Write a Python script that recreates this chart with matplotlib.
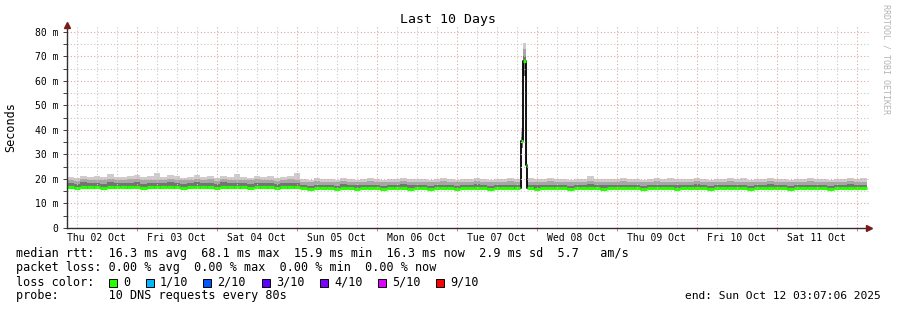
import matplotlib
matplotlib.use("Agg")
import matplotlib.pyplot as plt
import matplotlib.dates as mdates
from matplotlib.patches import Rectangle
import numpy as np
import pandas as pd

nan = np.nan

# 2-hour bins, Thu 02 Oct 03:07 -> Sun 12 Oct 03:07 (bin 68 is covered by the spike bins)
median = [
    16.6, 16.5, 16.8, 16.6, 16.7, 16.5, 16.9, 16.6, 16.7, 16.6,
    16.8, 16.5, 16.6, 16.7, 16.6, 16.9, 16.7, 16.5, 16.6, 16.8,
    16.6, 16.7, 16.5, 16.8, 16.6, 16.7, 16.6, 16.5, 16.8, 16.6,
    16.7, 16.5, 16.6, 16.7, 16.6,
    16.2, 16.1, 16.3, 16.2, 16.2, 16.1, 16.3, 16.2, 16.1, 16.2,
    16.3, 16.2, 16.1, 16.2, 16.2, 16.3, 16.1, 16.2, 16.2, 16.1,
    16.2, 16.3, 16.2, 16.1, 16.2, 16.2, 16.3, 16.2, 16.1, 16.2,
    16.2, 16.3, 16.2, nan, 16.2, 16.1, 16.2, 16.3, 16.2, 16.2,
    16.1, 16.2, 16.2, 16.3, 16.2, 16.1, 16.2, 16.2, 16.3, 16.2,
    16.2, 16.1, 16.2, 16.3, 16.2, 16.2, 16.1, 16.2, 16.2, 16.3,
    16.2, 16.1, 16.2, 16.2, 16.3, 16.2, 16.2, 16.1, 16.2, 16.2,
    16.3, 16.2, 16.2, 16.1, 16.2, 16.2, 16.3, 16.2, 16.2, 16.1,
    16.2, 16.2, 16.3, 16.2, 16.2,
]
smoke_lo = [
    16.1, 16.0, 16.2, 16.1, 16.1, 16.0, 16.3, 16.1, 16.2, 16.0,
    16.2, 16.0, 16.1, 16.1, 16.0, 16.3, 16.1, 16.0, 16.1, 16.2,
    16.0, 16.1, 16.0, 16.2, 16.1, 16.1, 16.0, 16.0, 16.2, 16.1,
    16.1, 16.0, 16.1, 16.1, 16.0,
    15.8, 15.7, 15.9, 15.8, 15.8, 15.7, 15.9, 15.8, 15.7, 15.8,
    15.9, 15.8, 15.7, 15.8, 15.8, 15.9, 15.7, 15.8, 15.8, 15.7,
    15.8, 15.9, 15.8, 15.7, 15.8, 15.8, 15.9, 15.8, 15.7, 15.8,
    15.8, 15.9, 15.8, nan, 15.8, 15.7, 15.8, 15.9, 15.8, 15.8,
    15.7, 15.8, 15.8, 15.9, 15.8, 15.7, 15.8, 15.8, 15.9, 15.8,
    15.8, 15.7, 15.8, 15.9, 15.8, 15.8, 15.7, 15.8, 15.8, 15.9,
    15.8, 15.7, 15.8, 15.8, 15.9, 15.8, 15.8, 15.7, 15.8, 15.8,
    15.9, 15.8, 15.8, 15.7, 15.8, 15.8, 15.9, 15.8, 15.8, 15.7,
    15.8, 15.8, 15.9, 15.8, 15.8,
]
smoke_q1 = [
    18.3, 18.0, 18.6, 18.2, 18.4, 18.1, 18.7, 18.3, 18.2, 18.5,
    18.6, 18.1, 18.3, 18.4, 18.2, 18.8, 18.4, 18.1, 18.3, 18.6,
    18.2, 18.5, 18.0, 18.6, 18.3, 18.4, 18.2, 18.1, 18.5, 18.3,
    18.4, 18.0, 18.3, 18.5, 18.2,
    17.5, 17.3, 17.7, 17.4, 17.6, 17.3, 17.8, 17.5, 17.4, 17.6,
    17.7, 17.4, 17.3, 17.6, 17.5, 17.8, 17.4, 17.5, 17.6, 17.3,
    17.5, 17.7, 17.4, 17.3, 17.6, 17.5, 17.8, 17.4, 17.3, 17.5,
    17.6, 17.7, 17.5, nan, 17.6, 17.4, 17.5, 17.7, 17.5, 17.6,
    17.3, 17.5, 17.6, 17.8, 17.5, 17.4, 17.6, 17.5, 17.7, 17.4,
    17.5, 17.3, 17.6, 17.7, 17.5, 17.6, 17.4, 17.5, 17.6, 17.8,
    17.5, 17.3, 17.6, 17.5, 17.7, 17.4, 17.6, 17.3, 17.5, 17.6,
    17.8, 17.5, 17.6, 17.3, 17.5, 17.6, 17.7, 17.4, 17.6, 17.3,
    17.5, 17.6, 17.8, 17.5, 17.6,
]
smoke_q2 = [
    19.6, 19.3, 19.9, 19.5, 19.7, 19.4, 20.0, 19.6, 19.5, 19.8,
    19.9, 19.4, 19.6, 19.7, 19.5, 20.1, 19.7, 19.4, 19.6, 19.9,
    19.5, 19.8, 19.3, 19.9, 19.6, 19.7, 19.5, 19.4, 19.8, 19.6,
    19.7, 19.3, 19.6, 19.8, 19.5,
    18.8, 18.6, 19.0, 18.7, 18.9, 18.6, 19.1, 18.8, 18.7, 18.9,
    19.0, 18.7, 18.6, 18.9, 18.8, 19.1, 18.7, 18.8, 18.9, 18.6,
    18.8, 19.0, 18.7, 18.6, 18.9, 18.8, 19.1, 18.7, 18.6, 18.8,
    18.9, 19.0, 18.8, nan, 18.9, 18.7, 18.8, 19.0, 18.8, 18.9,
    18.6, 18.8, 18.9, 19.1, 18.8, 18.7, 18.9, 18.8, 19.0, 18.7,
    18.8, 18.6, 18.9, 19.0, 18.8, 18.9, 18.7, 18.8, 18.9, 19.1,
    18.8, 18.6, 18.9, 18.8, 19.0, 18.7, 18.9, 18.6, 18.8, 18.9,
    19.1, 18.8, 18.9, 18.6, 18.8, 18.9, 19.0, 18.7, 18.9, 18.6,
    18.8, 18.9, 19.1, 18.8, 18.9,
]
smoke_hi = [
    21.0, 20.6, 21.4, 20.8, 21.2, 20.7, 21.9, 21.0, 20.8, 21.3,
    21.5, 20.7, 21.1, 22.3, 20.9, 21.6, 21.2, 20.6, 21.0, 21.7,
    20.8, 21.3, 20.5, 21.4, 21.0, 22.0, 20.9, 20.6, 21.3, 21.0,
    21.2, 20.5, 21.0, 21.4, 22.6,
    19.9, 19.6, 20.2, 19.8, 20.0, 19.7, 20.4, 19.9, 19.7, 20.1,
    20.3, 19.8, 19.6, 20.0, 19.9, 20.5, 19.8, 19.9, 20.1, 19.6,
    19.9, 20.3, 19.8, 19.6, 20.0, 19.9, 20.4, 19.8, 19.7, 19.9,
    20.1, 20.3, 19.9, nan, 20.2, 19.8, 19.9, 20.3, 19.9, 20.1,
    19.7, 19.9, 20.0, 21.2, 19.9, 19.8, 20.1, 19.9, 20.4, 19.8,
    19.9, 19.6, 20.0, 20.3, 19.9, 20.2, 19.8, 19.9, 20.1, 20.5,
    19.9, 19.7, 20.1, 19.9, 20.4, 19.8, 20.2, 19.7, 19.9, 20.1,
    20.5, 19.9, 20.1, 19.6, 19.9, 20.0, 20.3, 19.8, 20.1, 19.7,
    19.9, 20.1, 20.6, 19.9, 20.2,
]

# the latency spike on Tue 07 Oct
spike_edges = ["2025-10-07 19:12", "2025-10-07 19:48", "2025-10-07 20:42", "2025-10-07 21:00"]
spike_med = [35.5, 68.0, 25.7]
spike_lo = [32.5, 62.0, 24.0]
spike_q1 = [37.0, 70.0, 27.5]
spike_q2 = [39.0, 73.0, 29.5]
spike_hi = [41.0, 75.5, 31.0]

day_labels = pd.date_range("2025-10-02 12:00", periods=10, freq="D")
y_ticks = [0, 10, 20, 30, 40, 50, 60, 70, 80]

loss_labels = ["0", "1/10", "2/10", "3/10", "4/10", "5/10", "9/10"]
loss_colors = ["#26ff00", "#00b8ff", "#0059ff", "#5e00ff", "#7e00ff", "#dd00ff", "#ff0000"]

# ---------------------------------------------------------------
W, H = 897, 310
plt.rcParams["font.family"] = ["DejaVu Sans Mono"]
fig = plt.figure(figsize=(W / 100, H / 100), dpi=100)


def fx(px):
    return px / W


def fy(py):
    return 1 - py / H


ax = fig.add_axes([fx(67), fy(228), fx(869) - fx(67), fy(24.6) - fy(228)])

start = pd.Timestamp("2025-10-02 03:07:06")
x0 = mdates.date2num(pd.date_range(start, periods=len(median), freq="2h"))
w = 2 / 24
sx = mdates.date2num(pd.to_datetime(spike_edges))
sw = np.diff(sx)

band_cols = ["#747474", "#a6a6a6", "#cdcdcd"]
layers = [smoke_lo, smoke_q1, smoke_q2, smoke_hi]
spike_layers = [spike_lo, spike_q1, spike_q2, spike_hi]
for i, c in enumerate(band_cols):
    lo = np.array(layers[i]); hi = np.array(layers[i + 1])
    ax.bar(x0, hi - lo, width=w, bottom=lo, align="edge", color=c,
           linewidth=0, antialiased=False, zorder=1)
    lo = np.array(spike_layers[i]); hi = np.array(spike_layers[i + 1])
    ax.bar(sx[:-1], hi - lo, width=sw, bottom=lo, align="edge", color=c,
           linewidth=0, antialiased=False, zorder=1)

# median: black connecting steps around the spike, green segments on top
bx = [x0[67]] + list(sx[:-1]) + [x0[69], x0[69] + w]
bv = [median[67]] + spike_med + [median[69], median[69]]
ax.step(bx, bv, where="post", color="black", lw=1.3, zorder=2)
ax.hlines(median, x0, x0 + w, colors=loss_colors[0], lw=2.3, zorder=3)
ax.hlines(spike_med, sx[:-1], sx[1:], colors=loss_colors[0], lw=2.3, zorder=3)

x_end = x0[0] + 802 / 800 * 10
ax.set_xlim(x0[0], x_end)
ax.set_ylim(0, 83)

# grid over the data, like rrdtool
grid_x = mdates.date2num(pd.date_range("2025-10-02 06:00", "2025-10-12 00:00", freq="6h"))
midnights = []
for gx in grid_x:
    is_day = mdates.num2date(gx).hour == 0
    if is_day:
        midnights.append(gx)
    ax.axvline(gx, color="#e3a4a4" if is_day else "#c8c8c8", lw=0.8,
               ls=(0, (1, 2)), zorder=5)
for gy in np.arange(5, 83, 5):
    ax.axhline(gy, color="#e3a4a4" if gy % 10 == 0 else "#c8c8c8", lw=0.8,
               ls=(0, (1, 2)), zorder=5)

ax.set_xticks(mdates.date2num(day_labels))
ax.set_xticklabels([d.strftime("%a %d %b") for d in day_labels], fontsize=7)
ax.tick_params(axis="x", length=0, pad=3.5)
ax.set_xticks(midnights, minor=True)
ax.tick_params(axis="x", which="minor", length=2.5, width=0.8, color="#e08080")
ax.set_yticks(y_ticks)
ax.set_yticklabels(["0" if v == 0 else "%d m" % v for v in y_ticks], fontsize=7)
ax.set_yticks(np.arange(5, 83, 10), minor=True)
ax.tick_params(axis="y", which="both", length=3, width=0.7, color="#404040", pad=3)

for s in ["top", "right"]:
    ax.spines[s].set_visible(False)
for s in ["left", "bottom"]:
    ax.spines[s].set_color("#303030")
    ax.spines[s].set_linewidth(1.0)
    ax.spines[s].set_zorder(6)

ax.plot([0], [1.0], marker="^", ms=4, color="#7a1a1a", transform=ax.transAxes,
        clip_on=False, zorder=7)
ax.plot([1.0], [0], marker=">", ms=4, color="#7a1a1a", transform=ax.transAxes,
        clip_on=False, zorder=7)

# texts
fig.text(fx(448), fy(19), "Last 10 Days", ha="center", va="center", fontsize=9.5)
fig.text(fx(11), fy(127), "Seconds", ha="center", va="center", rotation=90, fontsize=8.5)
fig.text(fx(886), fy(4), "RRDTOOL / TOBI OETIKER", ha="center", va="top",
         rotation=270, fontsize=6, color="#b4b4b4")

leg = 8.5
fig.text(fx(16), fy(254), "median rtt:  16.3 ms avg  68.1 ms max  15.9 ms min  16.3 ms now  2.9 ms sd  5.7   am/s",
         ha="left", va="center", fontsize=leg)
fig.text(fx(16), fy(268), "packet loss: 0.00 % avg  0.00 % max  0.00 % min  0.00 % now",
         ha="left", va="center", fontsize=leg)
fig.text(fx(16), fy(282), "loss color:", ha="left", va="center", fontsize=leg)
box_x = [109, 146, 203, 262, 320, 378, 436]
for bxp, lab, col in zip(box_x, loss_labels, loss_colors):
    fig.patches.append(Rectangle((fx(bxp), fy(286.5)), 8 / W, 8 / H, transform=fig.transFigure,
                                 facecolor=col, edgecolor="black", lw=0.7))
    fig.text(fx(bxp + 14), fy(282), lab, ha="left", va="center", fontsize=leg)
fig.text(fx(16), fy(296), "probe:       10 DNS requests every 80s", ha="left", va="center", fontsize=leg)
fig.text(fx(881), fy(296), "end: Sun Oct 12 03:07:06 2025", ha="right", va="center", fontsize=8.1)

fig.savefig("out.png", dpi=100)
